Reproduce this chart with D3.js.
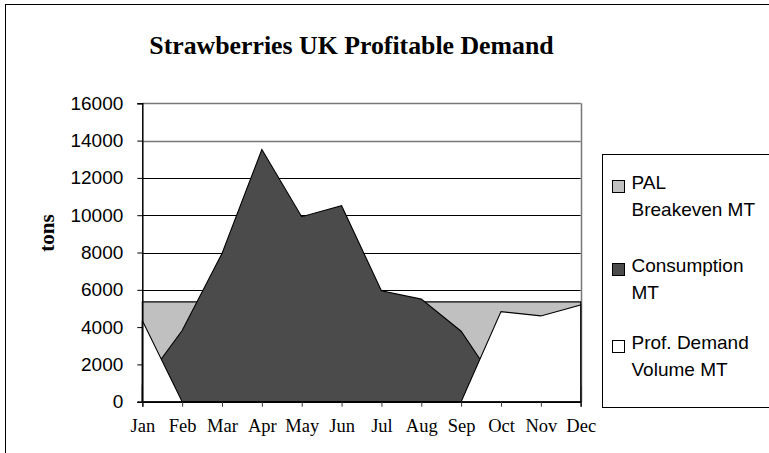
<!DOCTYPE html>
<html><head><meta charset="utf-8">
<script src="https://cdn.jsdelivr.net/npm/d3@7"></script>
<style>body{margin:0;background:#fff;}svg{display:block;}</style>
</head><body>
<svg id="chart" width="769" height="453"></svg>
<script>
const months = ["Jan","Feb","Mar","Apr","May","Jun","Jul","Aug","Sep","Oct","Nov","Dec"];
const palBreakeven = [5350,5350,5350,5350,5350,5350,5350,5350,5350,5350,5350,5350];
const consumption = [900,3820,7950,13520,9920,10510,5950,5500,3780,600,400,800];
const profDemand = [4350,0,0,0,0,0,0,0,0,4830,4600,5180];
const yTicks = [0,2000,4000,6000,8000,10000,12000,14000,16000];
const seriesNames = ["PAL Breakeven MT","Consumption MT","Prof. Demand Volume MT"];
const legendLines = [["PAL","Breakeven MT"],["Consumption","MT"],["Prof. Demand","Volume MT"]];
const colors = ["#c0c0c0","#4b4b4b","#ffffff"];

const svg = d3.select("#chart");
const x = d3.scalePoint().domain(months).range([142.3, 580.7]);
const y = d3.scaleLinear().domain([0,16000]).range([401.7, 103.3]);

// outer border
svg.append("rect").attr("x",5.5).attr("y",4.5).attr("width",800).attr("height",600)
  .attr("fill","none").attr("stroke","#000").attr("stroke-width",1);

// title
svg.append("text").attr("x",351.5).attr("y",54)
  .attr("text-anchor","middle").attr("font-family","'Liberation Serif','Times New Roman',serif")
  .attr("font-weight","bold").attr("font-size",25.8).attr("fill","#000")
  .text("Strawberries UK Profitable Demand");

// gridlines
svg.append("g").selectAll("line").data(yTicks.filter(d=>d>0)).join("line")
  .attr("x1",x("Jan")).attr("x2",x("Dec"))
  .attr("y1",d=>Math.round(y(d))+0.5).attr("y2",d=>Math.round(y(d))+0.5)
  .attr("stroke",d=>d>=14000?"#777":"#000").attr("stroke-width",d=>d>=14000?1.6:1);

// right plot border
svg.append("line").attr("x1",Math.round(x("Dec"))+0.5).attr("x2",Math.round(x("Dec"))+0.5)
  .attr("y1",y(16000)).attr("y2",y(0)).attr("stroke","#777").attr("stroke-width",1.5);

const area = d3.area().x((d,i)=>x(months[i])).y0(y(0)).y1(d=>y(d));
const seriesData = [palBreakeven, consumption, profDemand];
seriesData.forEach((s,k)=>{
  svg.append("path").datum(s).attr("d", d=>area(d)+"Z")
    .attr("fill",colors[k]).attr("stroke","#000").attr("stroke-width",1.1)
    .attr("stroke-linejoin","miter");
});

// axes
const yAxis = d3.axisLeft(y).tickValues(yTicks).tickSize(5).tickPadding(14).tickFormat(d3.format("d"));
const gy = svg.append("g").attr("transform",`translate(${x("Jan")},0)`).call(yAxis);
gy.select(".domain").attr("stroke","#000").attr("stroke-width",1.5);
gy.selectAll(".tick line").attr("stroke","#000");
gy.selectAll("text").attr("font-family","'Liberation Sans',Arial,sans-serif").attr("font-size",19).attr("fill","#000");

const xAxis = d3.axisBottom(x).tickSize(5).tickPadding(12);
const gx = svg.append("g").attr("transform",`translate(0,${y(0)})`).call(xAxis);
gx.select(".domain").attr("stroke","#000").attr("stroke-width",1.5);
gx.selectAll(".tick line").attr("stroke","#333");
gx.selectAll("text").attr("font-family","'Liberation Serif','Times New Roman',serif").attr("font-size",18.5).attr("fill","#000");

// y title
svg.append("text").attr("transform","translate(54,233) rotate(-90)")
  .attr("text-anchor","middle").attr("font-family","'Liberation Serif','Times New Roman',serif")
  .attr("font-weight","bold").attr("font-size",21).text("tons");

// legend
const lg = svg.append("g");
lg.append("rect").attr("x",602.5).attr("y",154.5).attr("width",200).attr("height",253)
  .attr("fill","#fff").attr("stroke","#000");
const legendBase = [189, 272, 349];
seriesNames.forEach((n,k)=>{
  const b = legendBase[k];
  lg.append("rect").attr("x",612.5).attr("y",b-8.5).attr("width",12).attr("height",12)
    .attr("fill",colors[k]).attr("stroke","#000");
  const t = lg.append("text").attr("font-family","'Liberation Sans',Arial,sans-serif")
    .attr("font-size",19).attr("fill","#000");
  legendLines[k].forEach((ln,j)=>{
    t.append("tspan").attr("x",631.5).attr("y",b+j*27).text(ln);
  });
});
</script>
</body></html>
